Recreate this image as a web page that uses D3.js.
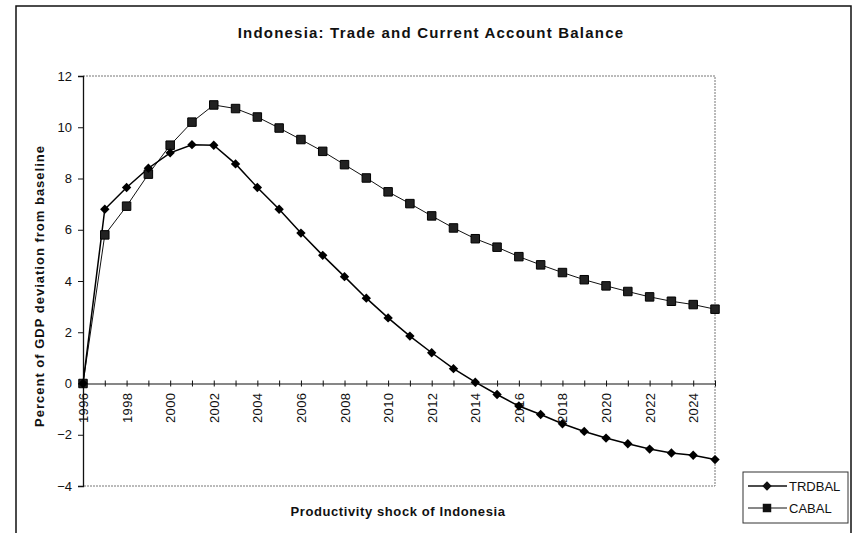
<!DOCTYPE html>
<html>
<head>
<meta charset="utf-8">
<script src="https://cdn.jsdelivr.net/npm/d3@7"></script>
<style>
  body { margin: 0; background: #fff; }
  svg { display: block; font-family: "Liberation Sans", Arial, sans-serif; }
</style>
</head>
<body>
<div id="chart"></div>
<script>
// data
const years = d3.range(1996, 2026);
const trdbal = [0, 6.8, 7.65, 8.4, 9.0, 9.32, 9.3, 8.57, 7.65, 6.8, 5.87, 5.0, 4.17, 3.33, 2.56, 1.85, 1.2, 0.58, 0.05, -0.43, -0.88, -1.21, -1.57, -1.87, -2.13, -2.35, -2.56, -2.71, -2.8, -2.97];
const cabal = [0, 5.8, 6.92, 8.17, 9.3, 10.2, 10.87, 10.73, 10.4, 9.97, 9.52, 9.06, 8.54, 8.02, 7.48, 7.02, 6.54, 6.07, 5.65, 5.32, 4.95, 4.63, 4.33, 4.05, 3.81, 3.59, 3.38, 3.21, 3.08, 2.9];
const yTicks = [-4, -2, 0, 2, 4, 6, 8, 10, 12];
const xLabels = d3.range(1996, 2025, 2);

let w = 861;
let h = 533;
let margin = {top: 76, right: 146, bottom: 47, left: 83};

let svg = d3.select("#chart")
            .append("svg")
            .attr("width", w)
            .attr("height", h);

// outer chart frame (bottom edge is off the page)
svg.append("path")
    .attr("d", `M16,${h + 2} L16,6 L851,6 L851,${h + 2}`)
    .attr("fill", "none")
    .attr("stroke", "#111")
    .attr("stroke-width", 1.5);

let x = d3.scaleLinear()
            .domain([1996, 2025])
            .range([margin.left, w - margin.right]);
let y = d3.scaleLinear()
            .domain([-4, 12])
            .range([h - margin.bottom, margin.top]);

// plot area border, dotted grey
svg.append("path")
    .attr("d", `M${x(1996)},${y(12)} L${x(2025)},${y(12)} L${x(2025)},${y(-4)} L${x(1996)},${y(-4)}`)
    .attr("fill", "none")
    .attr("stroke", "#777")
    .attr("stroke-width", 1)
    .attr("stroke-dasharray", "2,1");

// y axis
let yAxis = d3.axisLeft(y)
            .tickValues(yTicks)
            .tickSize(5)
            .tickPadding(6)
            .tickFormat(d3.format("d"));
let gy = svg.append("g")
    .attr("transform", `translate(${x(1996)},0)`)
    .call(yAxis);
gy.select(".domain").attr("stroke", "#111").attr("stroke-width", 1.3);
gy.selectAll(".tick line").attr("stroke", "#111");
gy.selectAll("text")
    .style("font-size", "13px")
    .style("fill", "#111");

// x axis crosses at zero, ticks every year crossing the line
let xAxis = d3.axisBottom(x)
            .tickValues(years)
            .tickSize(0)
            .tickFormat("");
let gx = svg.append("g")
    .attr("transform", `translate(0,${y(0)})`)
    .call(xAxis);
gx.select(".domain").attr("stroke", "#111").attr("stroke-width", 1.2);
gx.selectAll(".tick").append("line")
    .attr("y1", -3)
    .attr("y2", 3)
    .attr("stroke", "#111");

// rotated year labels
svg.selectAll(".xlab")
    .data(xLabels)
    .enter()
    .append("text")
    .attr("class", "xlab")
    .attr("transform", d => `translate(${x(d) + 5},${y(0) + 9}) rotate(-90)`)
    .attr("text-anchor", "end")
    .style("font-size", "13px")
    .style("letter-spacing", "0.4px")
    .style("fill", "#111")
    .text(d => d);

// lines
let line = d3.line()
            .x((d, i) => x(years[i]))
            .y(d => y(d));

svg.append("path")
    .datum(cabal)
    .attr("d", line)
    .attr("fill", "none")
    .attr("stroke", "#111")
    .attr("stroke-width", 1);

svg.append("path")
    .datum(trdbal)
    .attr("d", line)
    .attr("fill", "none")
    .attr("stroke", "#000")
    .attr("stroke-width", 1.5);

let diamond = d3.symbol().type(d3.symbolSquare).size(44);
let square = d3.symbol().type(d3.symbolSquare).size(72);

svg.selectAll(".sq")
    .data(cabal)
    .enter()
    .append("path")
    .attr("class", "sq")
    .attr("d", square)
    .attr("transform", (d, i) => `translate(${x(years[i])},${y(d)})`)
    .attr("fill", "#222")
    .attr("stroke", "#000")
    .attr("stroke-width", 1);

svg.selectAll(".dm")
    .data(trdbal)
    .enter()
    .append("path")
    .attr("class", "dm")
    .attr("d", diamond)
    .attr("transform", (d, i) => `translate(${x(years[i])},${y(d)}) rotate(45)`)
    .attr("fill", "#000");

// titles
svg.append("text")
    .attr("x", 431)
    .attr("y", 38)
    .attr("text-anchor", "middle")
    .style("font-size", "15px")
    .style("font-weight", "bold")
    .style("letter-spacing", "1.2px")
    .style("fill", "#111")
    .text("Indonesia: Trade and Current Account Balance");

svg.append("text")
    .attr("x", 398)
    .attr("y", 516)
    .attr("text-anchor", "middle")
    .style("font-size", "13px")
    .style("font-weight", "bold")
    .style("letter-spacing", "0.6px")
    .style("fill", "#111")
    .text("Productivity shock of Indonesia");

svg.append("text")
    .attr("transform", `translate(44,286) rotate(-90)`)
    .attr("text-anchor", "middle")
    .style("font-size", "13px")
    .style("font-weight", "bold")
    .style("letter-spacing", "1px")
    .style("fill", "#111")
    .text("Percent of GDP deviation from baseline");

// legend
const legendNames = ["TRDBAL", "CABAL"];
let legend = svg.append("g")
    .attr("transform", "translate(743,472)");
legend.append("rect")
    .attr("width", 105)
    .attr("height", 51)
    .attr("fill", "#fff")
    .attr("stroke", "#333")
    .attr("stroke-width", 1);
let items = legend.selectAll(".item")
    .data(legendNames)
    .enter()
    .append("g")
    .attr("transform", (d, i) => `translate(0,${14 + i * 22})`);
items.append("line")
    .attr("x1", 5)
    .attr("x2", 44)
    .attr("stroke", "#111")
    .attr("stroke-width", (d, i) => i == 0 ? 1.5 : 1);
items.append("path")
    .attr("d", (d, i) => i == 0 ? diamond() : square())
    .attr("transform", (d, i) => i == 0 ? "translate(24,0) rotate(45)" : "translate(24,0)")
    .attr("fill", "#111");
items.append("text")
    .attr("x", 46)
    .attr("y", 5)
    .style("font-size", "13px")
    .style("fill", "#111")
    .text(d => d);
</script>
</body>
</html>
